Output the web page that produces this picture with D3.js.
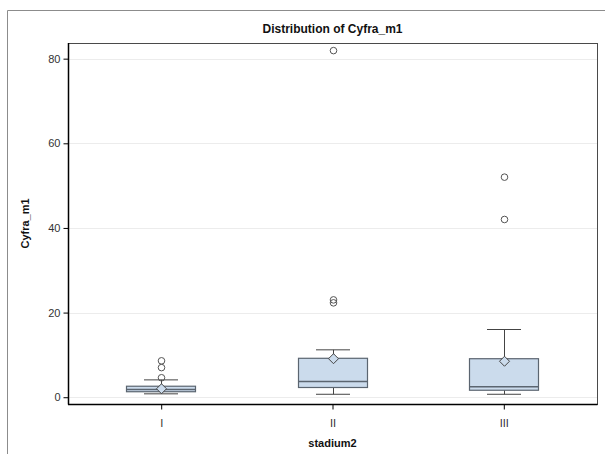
<!DOCTYPE html>
<html>
<head>
<meta charset="utf-8">
<script src="https://cdn.jsdelivr.net/npm/d3@7"></script>
<style>
    body { margin: 0; background: #fff; }
    svg { display: block; font-family: "Liberation Sans", Arial, sans-serif; }
</style>
</head>
<body>
<svg id="chart"></svg>
<script>
// 分组
var categories = ['I', 'II', 'III'];
// 箱线图统计量
var whiskerLow = [0.8, 0.7, 0.7];
var q1 = [1.3, 2.3, 1.65];
var medians = [1.8, 3.7, 2.5];
var q3 = [2.6, 9.2, 9.1];
var whiskerHigh = [4.1, 11.2, 16.0];
var means = [2.0, 9.1, 8.5];
// 离群点
var outliers = [
    [4.6, 7.0, 8.6],
    [22.3, 23.0, 81.9],
    [42.0, 52.0]
];
var yTicks = [0, 20, 40, 60, 80];

var width = 605, height = 454;
var plot = {left: 68, right: 597, top: 43, bottom: 404};
var svg = d3.select('#chart').attr('width', width).attr('height', height);

// 外框
svg.append('path')
    .attr('d', 'M7.5,' + height + 'V10.5H' + width)
    .attr('fill', 'none')
    .attr('stroke', '#8c8c8c')
    .attr('stroke-width', 1);

// 比例尺
var x = d3.scalePoint().domain(categories).range([plot.left, plot.right]).padding(0.544);
var y = d3.scaleLinear().domain([-1.6, 83.7]).range([plot.bottom, plot.top]);
var boxWidth = 69, capWidth = 34;

// 网格线
svg.append('g').selectAll('line')
    .data(yTicks)
    .enter()
    .append('line')
    .attr('x1', plot.left).attr('x2', plot.right)
    .attr('y1', function(d) { return Math.round(y(d)) + 0.5; })
    .attr('y2', function(d) { return Math.round(y(d)) + 0.5; })
    .attr('stroke', '#ececec');

// 绘图区边框
svg.append('rect')
    .attr('x', plot.left + 0.5).attr('y', plot.top + 0.5)
    .attr('width', plot.right - plot.left).attr('height', plot.bottom - plot.top)
    .attr('fill', 'none')
    .attr('stroke', '#4a4a4a');

// 坐标轴
var yAxis = svg.append('g')
    .attr('transform', 'translate(' + (plot.left + 0.5) + ',0)')
    .call(d3.axisLeft(y).tickValues(yTicks).tickSizeInner(5).tickSizeOuter(0).tickPadding(3));
var xAxis = svg.append('g')
    .attr('transform', 'translate(0,' + (plot.bottom + 0.5) + ')')
    .call(d3.axisBottom(x).tickSizeInner(5).tickSizeOuter(0).tickPadding(10));
yAxis.select('.domain').attr('d', 'M0,' + plot.top + 'V' + (plot.bottom + 0.5));
xAxis.select('.domain').attr('d', 'M' + plot.left + ',0H' + (plot.right + 0.5));
[xAxis, yAxis].forEach(function(ax) {
    ax.select('.domain').attr('stroke', '#000').attr('stroke-width', 1.5);
    ax.selectAll('.tick line').attr('stroke', '#000');
    ax.selectAll('.tick text').attr('fill', '#333').style('font-size', '11px');
});

// 箱体
var groups = svg.append('g').selectAll('g')
    .data(categories)
    .enter()
    .append('g')
    .attr('transform', function(d) { return 'translate(' + Math.round(x(d)) + ',0)'; });

// 须线
groups.append('line')
    .attr('x1', 0.5).attr('x2', 0.5)
    .attr('y1', function(d, i) { return y(whiskerLow[i]); })
    .attr('y2', function(d, i) { return y(whiskerHigh[i]); })
    .attr('stroke', '#444');
[whiskerLow, whiskerHigh].forEach(function(arr) {
    groups.append('line')
        .attr('x1', -capWidth / 2).attr('x2', capWidth / 2)
        .attr('y1', function(d, i) { return y(arr[i]); })
        .attr('y2', function(d, i) { return y(arr[i]); })
        .attr('stroke', '#444');
});

groups.append('rect')
    .attr('x', -boxWidth / 2)
    .attr('width', boxWidth)
    .attr('y', function(d, i) { return y(q3[i]); })
    .attr('height', function(d, i) { return y(q1[i]) - y(q3[i]); })
    .attr('fill', '#cbdbec')
    .attr('stroke', '#5b6570')
    .attr('stroke-width', 1.2);

// 中位数
groups.append('line')
    .attr('x1', -boxWidth / 2).attr('x2', boxWidth / 2)
    .attr('y1', function(d, i) { return y(medians[i]); })
    .attr('y2', function(d, i) { return y(medians[i]); })
    .attr('stroke', '#5b6570')
    .attr('stroke-width', 1.5);

// 均值
groups.append('path')
    .attr('d', function(d, i) {
        var c = y(means[i]), r = 5;
        return 'M0.5,' + (c - r) + 'L' + (r + 0.5) + ',' + c + 'L0.5,' + (c + r) + 'L' + (0.5 - r) + ',' + c + 'Z';
    })
    .attr('fill', '#cbdbec')
    .attr('stroke', '#444')
    .attr('stroke-width', 1);

// 离群点
groups.selectAll('circle')
    .data(function(d, i) { return outliers[i]; })
    .enter()
    .append('circle')
    .attr('cx', 0.5)
    .attr('cy', function(d) { return y(d); })
    .attr('r', 3.3)
    .attr('fill', 'none')
    .attr('stroke', '#555');

// 标题
svg.append('text')
    .attr('x', (plot.left + plot.right) / 2)
    .attr('y', 33)
    .attr('text-anchor', 'middle')
    .style('font-size', '12px')
    .style('font-weight', 'bold')
    .attr('fill', '#111')
    .text('Distribution of Cyfra_m1');

// 轴标题
svg.append('text')
    .attr('x', (plot.left + plot.right) / 2)
    .attr('y', 447)
    .attr('text-anchor', 'middle')
    .style('font-size', '11px')
    .style('font-weight', 'bold')
    .attr('fill', '#111')
    .text('stadium2');
svg.append('text')
    .attr('transform', 'translate(29,' + (plot.top + plot.bottom) / 2 + ') rotate(-90)')
    .attr('text-anchor', 'middle')
    .style('font-size', '11px')
    .style('font-weight', 'bold')
    .attr('fill', '#111')
    .text('Cyfra_m1');
</script>
</body>
</html>
